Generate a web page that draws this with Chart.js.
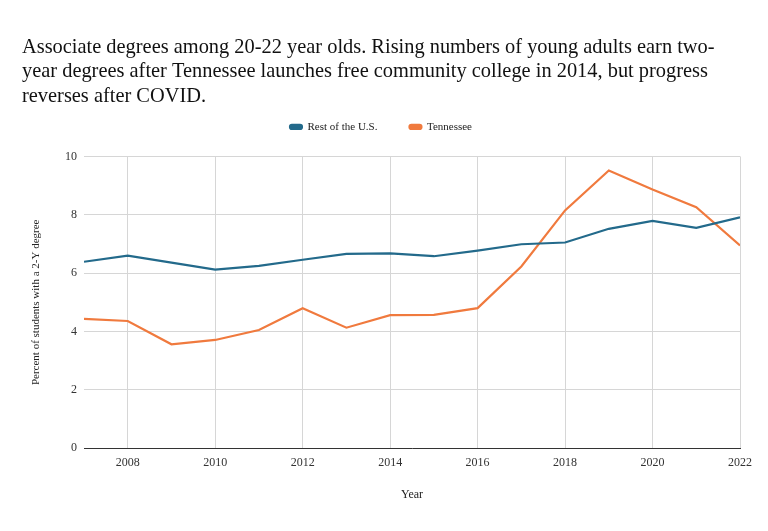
<!DOCTYPE html>
<html>
<head>
<meta charset="utf-8">
<script src="https://cdn.jsdelivr.net/npm/chart.js@4"></script>
<style>
html,body{margin:0;padding:0;background:#fff;}
#wrap{width:768px;height:531px;}
</style>
</head>
<body>
<div id="wrap"><canvas id="c" width="768" height="531"></canvas></div>
<script>
const years = [2007,2008,2009,2010,2011,2012,2013,2014,2015,2016,2017,2018,2019,2020,2021,2022];
const restOfUS = [6.39,6.60,6.36,6.12,6.25,6.46,6.66,6.68,6.58,6.77,6.99,7.05,7.52,7.79,7.55,7.91];
const tennessee = [4.43,4.36,3.56,3.71,4.05,4.80,4.13,4.56,4.57,4.80,6.23,8.15,9.52,8.87,8.26,6.95];
const xTicks = [2008,2010,2012,2014,2016,2018,2020,2022];
const yTicks = [0,2,4,6,8,10];
const titleLines = [
  "Associate degrees among 20-22 year olds. Rising numbers of young adults earn two-",
  "year degrees after Tennessee launches free community college in 2014, but progress",
  "reverses after COVID."
];

const serif = "'Liberation Serif','Times New Roman',serif";
Chart.defaults.font.family = serif;
Chart.defaults.color = '#222';

new Chart(document.getElementById('c'), {
  type: 'line',
  data: {
    datasets: [
      { label: 'Rest of the U.S.', data: years.map((y,i)=>({x:y,y:restOfUS[i]})),
        borderColor: '#236a8b', backgroundColor: '#236a8b', borderWidth: 2.2, pointRadius: 0, tension: 0 },
      { label: 'Tennessee', data: years.map((y,i)=>({x:y,y:tennessee[i]})),
        borderColor: '#f07a3e', backgroundColor: '#f07a3e', borderWidth: 2.2, pointRadius: 0, tension: 0 }
    ]
  },
  options: {
    responsive: false,
    animation: false,
    layout: { padding: { left: 22, right: 28, top: 0, bottom: 25 } },
    plugins: {
      title: {
        display: true, text: titleLines, align: 'start', color: '#111',
        font: { family: serif, size: 20.4, weight: 'normal', lineHeight: 1.2 },
        padding: { top: 35, bottom: -19 }
      },
      legend: {
        display: true, position: 'top', align: 'center',
        labels: { boxWidth: 12, boxHeight: 4, useBorderRadius: true, borderRadius: 2,
          font: { family: serif, size: 11 }, color: '#222', padding: 32 }
      },
      tooltip: { enabled: false }
    },
    scales: {
      x: {
        type: 'linear', min: 2007, max: 2022,
        afterBuildTicks: s => { s.ticks = xTicks.map(v => ({ value: v })); },
        ticks: { callback: v => String(v), font: { family: serif, size: 12 }, color: '#333', padding: 7, maxRotation: 0 },
        grid: { color: '#d6d6d6', lineWidth: 1, drawTicks: false },
        border: { display: true, color: '#333', width: 1 },
        title: { display: true, text: 'Year', font: { family: serif, size: 12 }, color: '#222', padding: { top: 11 } }
      },
      y: {
        min: 0, max: 10,
        afterBuildTicks: s => { s.ticks = yTicks.map(v => ({ value: v })); },
        afterFit: s => { s.width = 62; },
        ticks: { font: { family: serif, size: 12 }, color: '#333', padding: 7 },
        grid: { color: '#d6d6d6', lineWidth: 1, drawTicks: false },
        border: { display: false },
        title: { display: true, text: 'Percent of students with a 2-Y degree', font: { family: serif, size: 11 }, color: '#222', padding: { top: 8, bottom: 0 } }
      }
    }
  },
  plugins: [{
    id: 'bg',
    afterInit: c => {
      const lg = c.legend;
      if (lg) {
        const orig = lg.fit;
        lg.fit = function() { orig.call(this); this.height += 14; };
      }
    },
    beforeDraw: c => { const x = c.ctx; x.save(); x.fillStyle = '#fff'; x.fillRect(0,0,c.width,c.height); x.restore(); }
  }]
});
</script>
</body>
</html>
